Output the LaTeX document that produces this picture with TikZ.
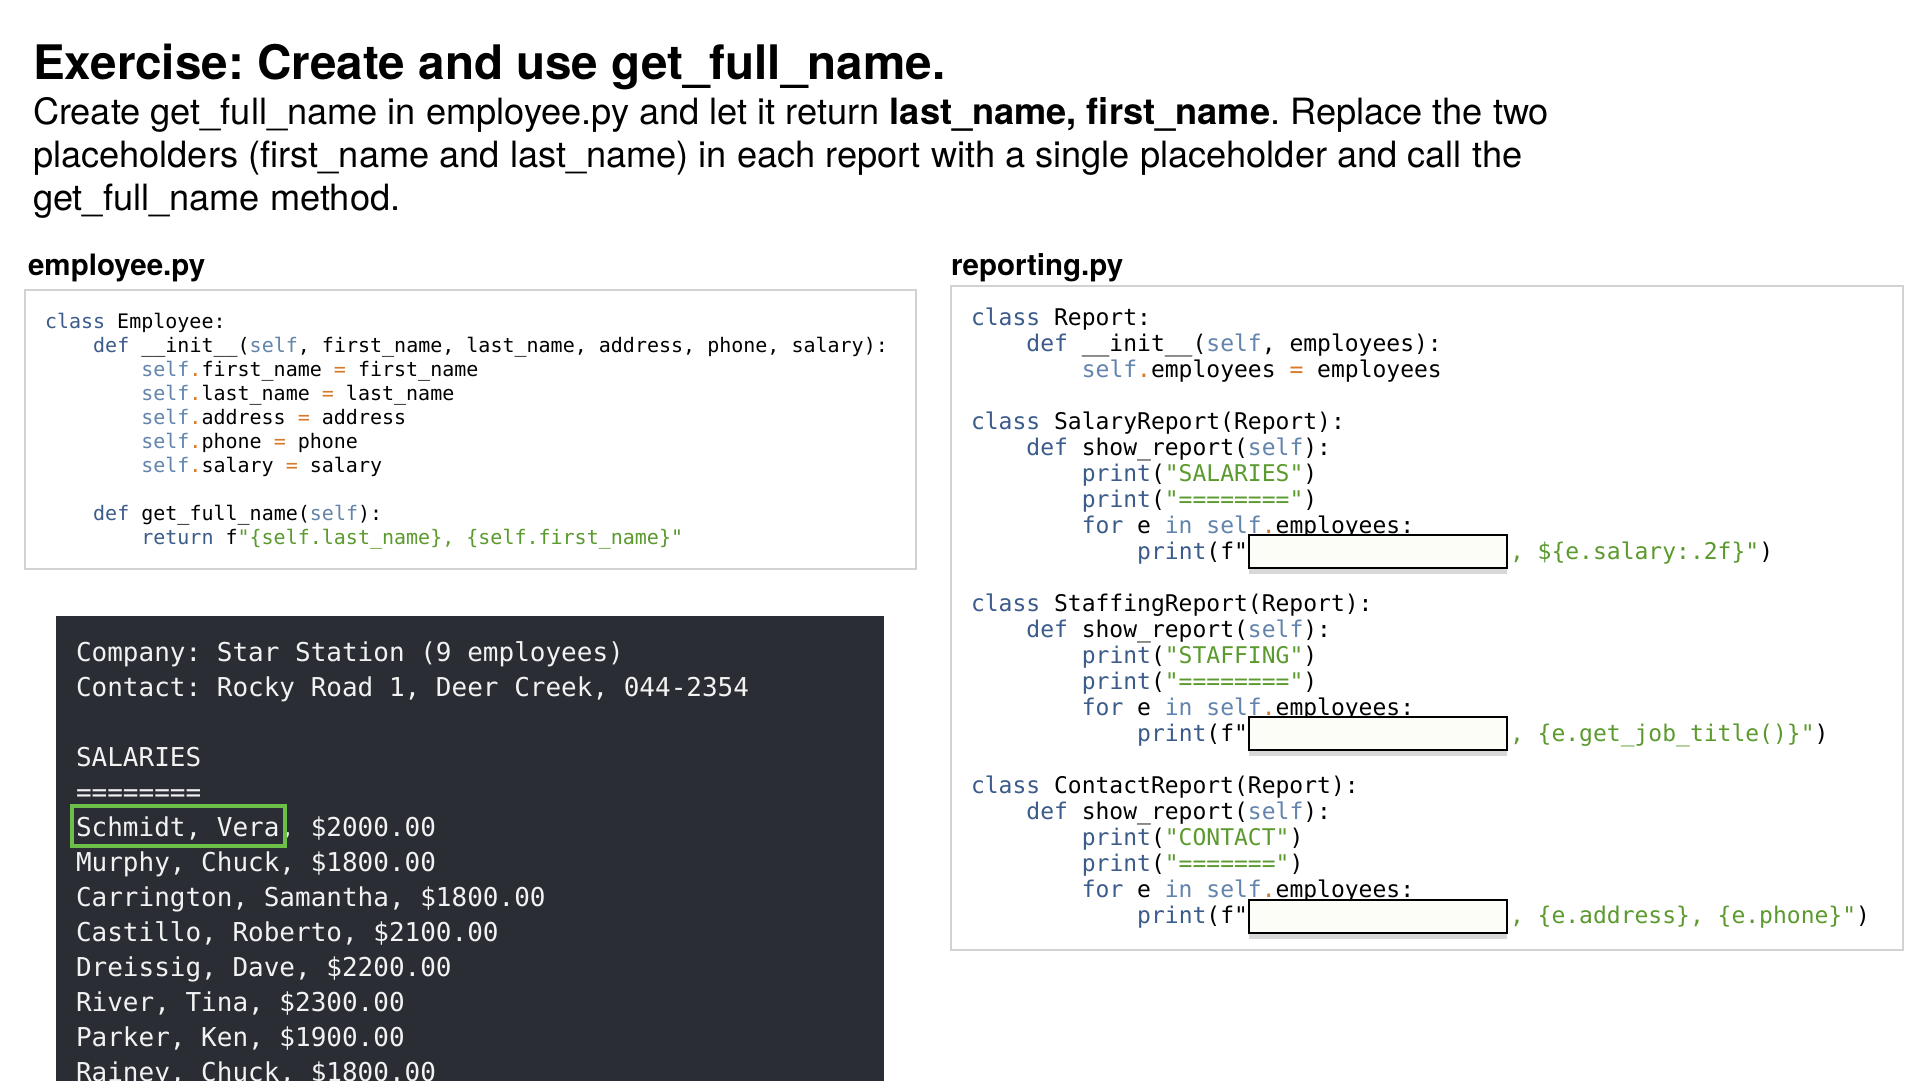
\documentclass[tikz,border=0pt]{standalone}
\usepackage{fontspec}
\setmainfont{TeX Gyre Heros}
\setmonofont{DejaVu Sans Mono}
\usetikzlibrary{shadows}
\definecolor{kwc}{HTML}{3B5B8A}
\definecolor{slc}{HTML}{6384AC}
\definecolor{strc}{HTML}{5B9A2E}
\definecolor{opc}{HTML}{D9792A}
\definecolor{termbg}{HTML}{2A2D34}
\definecolor{termfg}{HTML}{F2F2F2}
\definecolor{boxline}{HTML}{D2D2D2}
\definecolor{hlgreen}{HTML}{6CC04A}
\definecolor{phfill}{HTML}{FDFDF8}
\newcommand\kw[1]{\textcolor{kwc}{#1}}
\newcommand\slf[1]{\textcolor{slc}{#1}}
\newcommand\strg[1]{\textcolor{strc}{#1}}
\newcommand\opr[1]{\textcolor{opc}{#1}}
\frenchspacing
\tikzset{
  txt/.style={anchor=base west, inner sep=0pt, outer sep=0pt},
  titletxt/.style={txt, font=\fontsize{47.6}{47.6}\selectfont\bfseries},
  bodytxt/.style={txt, font=\fontsize{36.2}{36.2}\selectfont},
  labeltxt/.style={txt, font=\fontsize{29.5}{29.5}\selectfont\bfseries},
  ecode/.style={txt, font=\fontsize{20}{20}\selectfont\ttfamily},
  rcode/.style={txt, font=\fontsize{23}{23}\selectfont\ttfamily},
  tcode/.style={txt, font=\fontsize{26}{26}\selectfont\ttfamily, text=termfg},
  codebox/.style={draw=boxline, line width=2pt, fill=white},
  placeholder/.style={draw=black, line width=2.5pt, fill=phfill,
    drop shadow={opacity=0.3, shadow xshift=0pt, shadow yshift=-6pt}},
  highlight/.style={draw=hlgreen, line width=3.5pt}
}
\begin{document}
\begin{tikzpicture}[x=1pt, y=-1pt]
\useasboundingbox[fill=white] (0,0) rectangle (1920,1080);

% title and description
\node[titletxt] (title) at (33,79) {Exercise: Create and use get\_full\_name.};
\node[bodytxt] (d1) at (33,124) {Create get\_full\_name in employee.py and let it return \textbf{last\_name, first\_name}. Replace the two};
\node[bodytxt] (d2) at (33,167) {placeholders (first\_name and last\_name) in each report with a single placeholder and call the};
\node[bodytxt] (d3) at (33,210) {get\_full\_name method.};

% labels
\node[labeltxt] (lemp) at (28,275) {employee.py};
\node[labeltxt] (lrep) at (951,275) {reporting.py};

% employee.py box
\draw[codebox] (25,290) rectangle (916,569);
\node[ecode] (e0) at (45,328) {\kw{class} Employee:};
\node[ecode] (e1) at (93.2,352) {\kw{def} \_\_init\_\_(\slf{self}, first\_name, last\_name, address, phone, salary):};
\node[ecode] (e2) at (141.3,376) {\slf{self}\opr{.}first\_name \opr{=} first\_name};
\node[ecode] (e3) at (141.3,400) {\slf{self}\opr{.}last\_name \opr{=} last\_name};
\node[ecode] (e4) at (141.3,424) {\slf{self}\opr{.}address \opr{=} address};
\node[ecode] (e5) at (141.3,448) {\slf{self}\opr{.}phone \opr{=} phone};
\node[ecode] (e6) at (141.3,472) {\slf{self}\opr{.}salary \opr{=} salary};
\node[ecode] (e8) at (93.2,520) {\kw{def} get\_full\_name(\slf{self}):};
\node[ecode] (e9) at (141.3,544) {\kw{return} f\strg{"\{self.last\_name\}, \{self.first\_name\}"}};

% reporting.py box
\draw[codebox] (951,286) rectangle (1903,950);
\node[rcode] (r0) at (971,325) {\kw{class} Report:};
\node[rcode] (r1) at (1026.4,351) {\kw{def} \_\_init\_\_(\slf{self}, employees):};
\node[rcode] (r2) at (1081.8,377) {\slf{self}\opr{.}employees \opr{=} employees};
\node[rcode] (r4) at (971,429) {\kw{class} SalaryReport(Report):};
\node[rcode] (r5) at (1026.4,455) {\kw{def} show\_report(\slf{self}):};
\node[rcode] (r6) at (1081.8,481) {\kw{print}(\strg{"SALARIES"})};
\node[rcode] (r7) at (1081.8,507) {\kw{print}(\strg{"========"})};
\node[rcode] (r8) at (1081.8,533) {\kw{for} e \slf{in} \slf{self}\opr{.}employees:};
\node[rcode] (r9) at (1137.2,559) {\kw{print}(f"};
\node[rcode] (r9b) at (1510,559) {\strg{, \$\{e.salary:.2f\}"})};
\node[rcode] (r11) at (971,611) {\kw{class} StaffingReport(Report):};
\node[rcode] (r12) at (1026.4,637) {\kw{def} show\_report(\slf{self}):};
\node[rcode] (r13) at (1081.8,663) {\kw{print}(\strg{"STAFFING"})};
\node[rcode] (r14) at (1081.8,689) {\kw{print}(\strg{"========"})};
\node[rcode] (r15) at (1081.8,715) {\kw{for} e \slf{in} \slf{self}\opr{.}employees:};
\node[rcode] (r16) at (1137.2,741) {\kw{print}(f"};
\node[rcode] (r16b) at (1510,741) {\strg{, \{e.get\_job\_title()\}"})};
\node[rcode] (r18) at (971,793) {\kw{class} ContactReport(Report):};
\node[rcode] (r19) at (1026.4,819) {\kw{def} show\_report(\slf{self}):};
\node[rcode] (r20) at (1081.8,845) {\kw{print}(\strg{"CONTACT"})};
\node[rcode] (r21) at (1081.8,871) {\kw{print}(\strg{"======="})};
\node[rcode] (r22) at (1081.8,897) {\kw{for} e \slf{in} \slf{self}\opr{.}employees:};
\node[rcode] (r23) at (1137.2,923) {\kw{print}(f"};
\node[rcode] (r23b) at (1510,923) {\strg{, \{e.address\}, \{e.phone\}"})};

% placeholders
\path[placeholder] (1249,535) rectangle (1507,568);
\path[placeholder] (1249,717) rectangle (1507,750);
\path[placeholder] (1249,900) rectangle (1507,933);

% terminal output
\begin{scope}
\clip (0,0) rectangle (1920,1080);
\fill[termbg] (56,616) rectangle (884,1090);
\node[tcode] (t0) at (76,661) {Company: Star Station (9 employees)};
\node[tcode] (t1) at (76,696) {Contact: Rocky Road 1, Deer Creek, 044-2354};
\node[tcode] (t3) at (76,766) {SALARIES};
\node[tcode] (t4) at (76,801) {========};
\node[tcode] (t5) at (76,836) {Schmidt, Vera, \$2000.00};
\node[tcode] (t6) at (76,871) {Murphy, Chuck, \$1800.00};
\node[tcode] (t7) at (76,906) {Carrington, Samantha, \$1800.00};
\node[tcode] (t8) at (76,941) {Castillo, Roberto, \$2100.00};
\node[tcode] (t9) at (76,976) {Dreissig, Dave, \$2200.00};
\node[tcode] (t10) at (76,1011) {River, Tina, \$2300.00};
\node[tcode] (t11) at (76,1046) {Parker, Ken, \$1900.00};
\node[tcode] (t12) at (76,1081) {Rainey, Chuck, \$1800.00};
\draw[highlight] (72,806) rectangle (285,846);
\end{scope}
\end{tikzpicture}
\end{document}
